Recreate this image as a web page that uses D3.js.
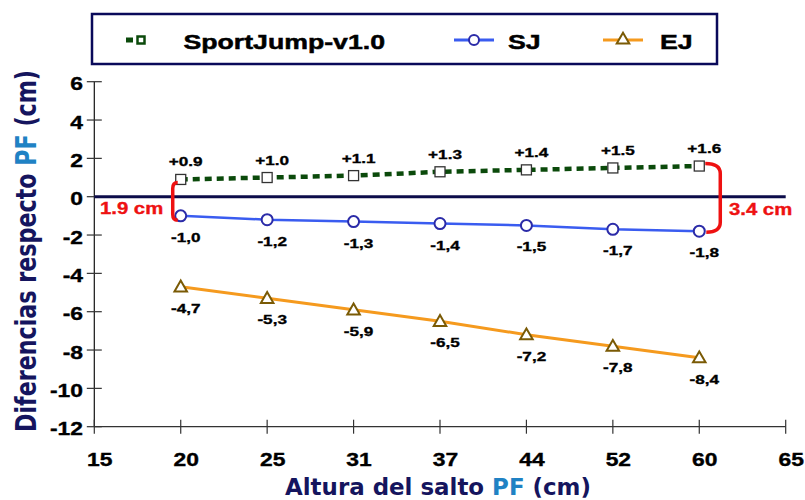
<!DOCTYPE html>
<html><head><meta charset="utf-8">
<script src="https://cdn.jsdelivr.net/npm/d3@7"></script>
<style>
body{margin:0;background:#fff;}
svg{display:block;}
</style></head>
<body>
<svg id="chart" width="805" height="500"></svg>
<script>
// ---- data ----
const xTickLabels = ["15","20","25","31","37","44","52","60","65"];
const categories = ["20","25","31","37","44","52","60"];
const sportJump = [0.9, 1.0, 1.1, 1.3, 1.4, 1.5, 1.6];
const sj = [-1.0, -1.2, -1.3, -1.4, -1.5, -1.7, -1.8];
const ej = [-4.7, -5.3, -5.9, -6.5, -7.2, -7.8, -8.4];
const yTicks = [6, 4, 2, 0, -2, -4, -6, -8, -10, -12];
const seriesNames = ["SportJump-v1.0", "SJ", "EJ"];
const gapLeft = "1.9 cm", gapRight = "3.4 cm";

const svg = d3.select("#chart");
const SX = 1.27; // horizontal text stretch
const FONT = "'Liberation Sans', Arial, sans-serif";

const x = d3.scalePoint().domain(xTickLabels).range([94.3, 785.7]);
const y = d3.scaleLinear().domain([-12, 6]).range([426.7, 81.7]);

function stext(g, tx, ty, str, opts) {
  const fill = opts.fill || "#000";
  return g.append("text")
    .attr("transform", `translate(${tx},${ty}) scale(${SX},1)`)
    .attr("font-family", opts.family || FONT)
    .attr("font-weight", "bold")
    .attr("font-size", opts.size)
    .attr("fill", fill)
    .attr("stroke", fill).attr("stroke-width", opts.sw || 0.35)
    .attr("text-anchor", opts.anchor || "start")
    .text(str);
}

// ---- axes ----
const axisCol = "#333";
const gAxes = svg.append("g");
gAxes.append("line").attr("x1", x("15")).attr("x2", x("65")).attr("y1", y(-12)).attr("y2", y(-12))
  .attr("stroke", axisCol).attr("stroke-width", 1.2);
gAxes.append("line").attr("x1", x("15")).attr("x2", x("15")).attr("y1", y(6)).attr("y2", y(-12))
  .attr("stroke", "#111").attr("stroke-width", 1.2);
xTickLabels.forEach(k => {
  gAxes.append("line").attr("x1", x(k)).attr("x2", x(k)).attr("y1", y(-12) - 7).attr("y2", y(-12) + 7)
    .attr("stroke", axisCol).attr("stroke-width", 1.2);
  stext(gAxes, x(k) + 5.5, 466, k, {size: 18, anchor: "middle"});
});
yTicks.forEach(v => {
  gAxes.append("line").attr("x1", x("15") - 7.5).attr("x2", x("15") + 7.5).attr("y1", y(v)).attr("y2", y(v))
    .attr("stroke", axisCol).attr("stroke-width", 1.2);
  stext(gAxes, 83, y(v) + 8.5, String(v), {size: 18, anchor: "end"});
});

// zero line
svg.append("line").attr("x1", x("15")).attr("x2", x("65")).attr("y1", y(0)).attr("y2", y(0))
  .attr("stroke", "#0c0c4a").attr("stroke-width", 3);

// ---- series ----
const line = d3.line().x((d, i) => x(categories[i])).y(d => y(d));
const cSJP = "#0b4a0b", cSJ = "#3a5cf0", cSJm = "#2b2ba8", cEJ = "#f59a1e", cEJm = "#7a5a05";

svg.append("path").datum(sportJump).attr("d", line).attr("fill", "none")
  .attr("stroke", cSJP).attr("stroke-width", 4.5).attr("stroke-dasharray", "7,5");
svg.append("path").datum(sj).attr("d", line).attr("fill", "none")
  .attr("stroke", cSJ).attr("stroke-width", 2.5);
svg.append("path").datum(ej).attr("d", line).attr("fill", "none")
  .attr("stroke", cEJ).attr("stroke-width", 3);

// markers + labels
sportJump.forEach((v, i) => {
  svg.append("rect").attr("x", x(categories[i]) - 5).attr("y", y(v) - 5).attr("width", 10).attr("height", 10)
    .attr("fill", "#fff").attr("stroke", "#333").attr("stroke-width", 1.3);
  stext(svg, x(categories[i]) + 5, y(v) - 13, "+" + v.toFixed(1), {size: 13.5, anchor: "middle"});
});
sj.forEach((v, i) => {
  svg.append("circle").attr("cx", x(categories[i])).attr("cy", y(v)).attr("r", 5.5)
    .attr("fill", "#fff").attr("stroke", cSJm).attr("stroke-width", 2);
  stext(svg, x(categories[i]) + 5, y(v) + 26, v.toFixed(1).replace(".", ","), {size: 13.5, anchor: "middle"});
});
const tri = d3.symbol().type(d3.symbolTriangle).size(68);
ej.forEach((v, i) => {
  svg.append("path").attr("d", tri).attr("transform", `translate(${x(categories[i])},${y(v) + 1})`)
    .attr("fill", "#fff").attr("stroke", cEJm).attr("stroke-width", 2);
  stext(svg, x(categories[i]) + 5, y(v) + 26, v.toFixed(1).replace(".", ","), {size: 13.5, anchor: "middle"});
});

// ---- red brackets ----
const red = "#ee1111";
{
  const xl = x(categories[0]);
  const yt = y(sportJump[0]) + 3, yb = y(sj[0]) + 4.5;
  const xb = xl - 8;
  svg.append("path").attr("d",
    `M${xl - 3},${yt} Q${xb},${yt} ${xb},${yt + 6} L${xb},${yb - 6} Q${xb},${yb} ${xl - 3},${yb}`)
    .attr("fill", "none").attr("stroke", red).attr("stroke-width", 3.5);
  stext(svg, 100, 214, gapLeft, {size: 16, fill: red});
}
{
  const xr = x(categories[6]);
  const yt = y(sportJump[6]) - 2.5, yb = y(sj[6]) + 1;
  const xb = xr + 21;
  svg.append("path").attr("d",
    `M${xr + 6},${yt} Q${xb},${yt} ${xb},${yt + 10} L${xb},${yb - 10} Q${xb},${yb} ${xr + 7},${yb}`)
    .attr("fill", "none").attr("stroke", red).attr("stroke-width", 3.5);
  stext(svg, 729, 215, gapRight, {size: 16, fill: red});
}

// ---- legend ----
const lg = svg.append("g");
lg.append("rect").attr("x", 92).attr("y", 14).attr("width", 625).attr("height", 50)
  .attr("fill", "#fff").attr("stroke", "#0a0a5a").attr("stroke-width", 2.5);
lg.append("rect").attr("x", 126).attr("y", 37.5).attr("width", 7).attr("height", 5).attr("fill", cSJP);
lg.append("rect").attr("x", 137.5).attr("y", 36.5).attr("width", 7).attr("height", 7)
  .attr("fill", "#fff").attr("stroke", cSJP).attr("stroke-width", 2.5);
stext(lg, 183.5, 48.5, seriesNames[0], {size: 21, sw: 0.5});
lg.append("line").attr("x1", 454).attr("x2", 494).attr("y1", 40).attr("y2", 40).attr("stroke", cSJ).attr("stroke-width", 3);
lg.append("circle").attr("cx", 474).attr("cy", 40).attr("r", 5).attr("fill", "#fff").attr("stroke", cSJm).attr("stroke-width", 2);
stext(lg, 508, 48.5, seriesNames[1], {size: 21, sw: 0.5});
lg.append("line").attr("x1", 603).attr("x2", 643).attr("y1", 40).attr("y2", 40).attr("stroke", cEJ).attr("stroke-width", 3);
lg.append("path").attr("d", tri).attr("transform", "translate(623,40)").attr("fill", "#fff").attr("stroke", cEJm).attr("stroke-width", 2);
stext(lg, 660, 48.5, seriesNames[2], {size: 21, sw: 0.5});

// ---- axis titles ----
const navy = "#15155e", pfBlue = "#1f82c4";
const TFONT = "'DejaVu Sans', Verdana, sans-serif";
const xt = svg.append("text").attr("x", 438).attr("y", 495).attr("text-anchor", "middle")
  .attr("font-family", TFONT).attr("font-weight", "bold").attr("font-size", 23)
  .attr("fill", navy).attr("textLength", 306).attr("lengthAdjust", "spacingAndGlyphs");
xt.append("tspan").text("Altura del salto ");
xt.append("tspan").attr("fill", pfBlue).text("PF");
xt.append("tspan").text(" (cm)");

const yt = svg.append("text").attr("transform", `translate(36,251) scale(${SX},1) rotate(-90)`)
  .attr("text-anchor", "middle")
  .attr("font-family", TFONT).attr("font-weight", "bold").attr("font-size", 23)
  .attr("fill", navy).attr("textLength", 362).attr("lengthAdjust", "spacingAndGlyphs");
yt.append("tspan").text("Diferencias respecto ");
yt.append("tspan").attr("fill", pfBlue).text("PF");
yt.append("tspan").text(" (cm)");
</script>
</body></html>
